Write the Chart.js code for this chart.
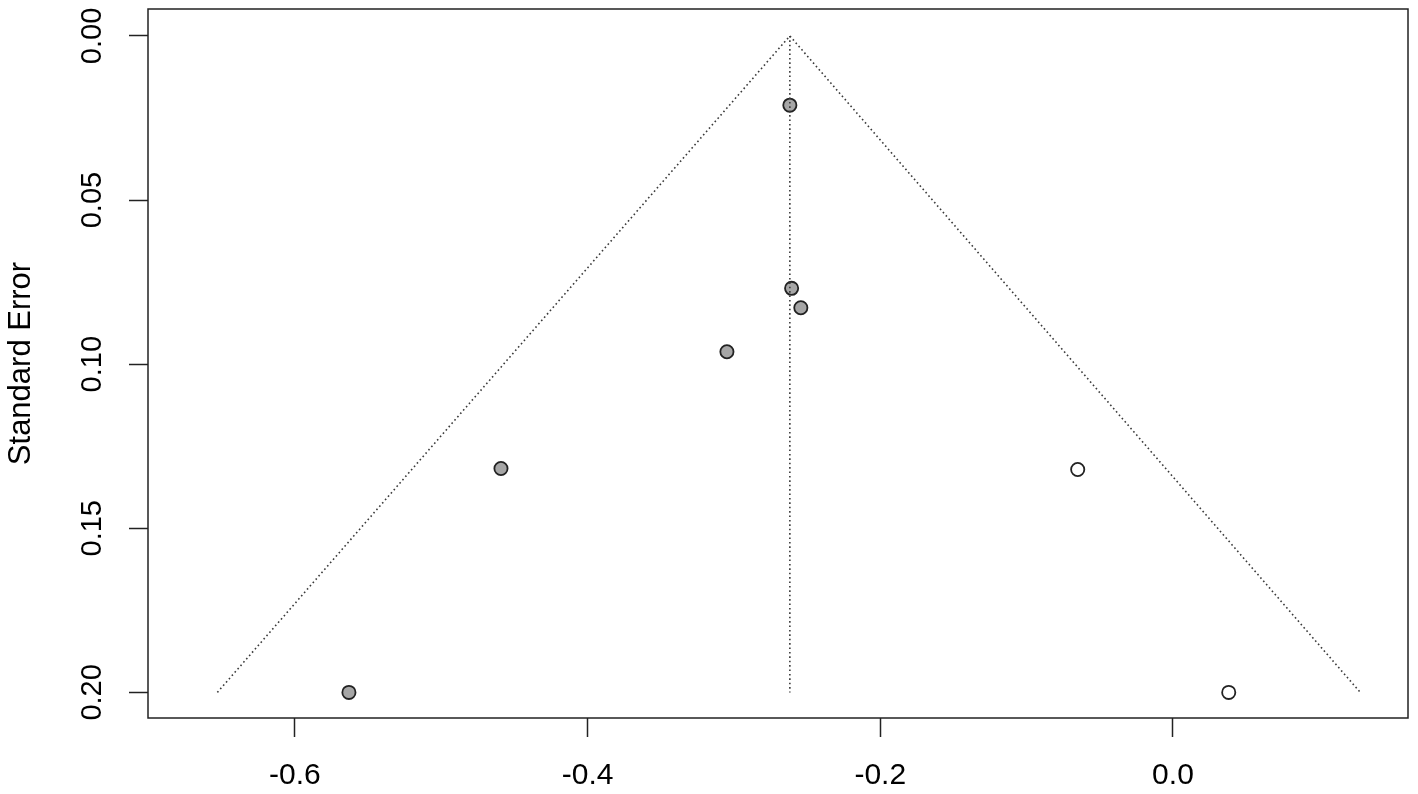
<!DOCTYPE html>
<html>
<head>
<meta charset="utf-8">
<script src="https://cdn.jsdelivr.net/npm/chart.js@4"></script>
<style>
  html, body { margin: 0; padding: 0; background: #fff; }
  #wrap { width: 1418px; height: 794px; position: relative; }
</style>
</head>
<body>
<div id="wrap"><canvas id="funnel"></canvas></div>
<script>
// observed studies (effect, standard error)
const obsEffect = [-0.2618, -0.2606, -0.2543, -0.3048, -0.4592, -0.5631];
const obsSE     = [0.0211, 0.0769, 0.0828, 0.0962, 0.1318, 0.2000];
// filled (imputed) studies
const fillEffect = [-0.0651, 0.0381];
const fillSE     = [0.1321, 0.2000];

// pooled estimate and funnel edges
const centerX = -0.2618;
const funnelX = [-0.653, -0.2618, 0.128];
const funnelY = [0.2, 0, 0.2];

const xTicks = [-0.6, -0.4, -0.2, 0.0];
const xTickLabels = ['-0.6', '-0.4', '-0.2', '0.0'];
const yTicks = [0, 0.05, 0.10, 0.15, 0.20];
const yTickLabels = ['0.00', '0.05', '0.10', '0.15', '0.20'];
const yTitle = 'Standard Error';

const FONT = '"Liberation Sans", Arial, sans-serif';
const ink = '#222';
const dots = '#3a3a3a';

const pts = (xs, ys) => xs.map((x, i) => ({ x: x, y: ys[i] }));

// box + rotated y labels, like base R
const rAxes = {
  id: 'rAxes',
  afterDraw(chart) {
    const c = chart.ctx, a = chart.chartArea, ys = chart.scales.y;
    c.save();
    c.strokeStyle = ink;
    c.lineWidth = 1.5;
    c.strokeRect(a.left, a.top, a.right - a.left, a.bottom - a.top);
    c.fillStyle = '#000';
    c.font = '29px ' + FONT;
    c.textAlign = 'center';
    c.textBaseline = 'alphabetic';
    yTicks.forEach((v, i) => {
      c.save();
      c.translate(101, ys.getPixelForValue(v));
      c.rotate(-Math.PI / 2);
      c.fillText(yTickLabels[i], 0, 0);
      c.restore();
    });
    c.font = '31px ' + FONT;
    c.translate(30, (a.top + a.bottom) / 2);
    c.rotate(-Math.PI / 2);
    c.fillText(yTitle, 0, 0);
    c.restore();
  }
};

new Chart(document.getElementById('funnel'), {
  type: 'scatter',
  data: {
    datasets: [
      {
        data: pts(funnelX, funnelY),
        showLine: true,
        borderColor: dots,
        borderWidth: 1.6,
        borderDash: [1.6, 2.8],
        pointRadius: 0,
        tension: 0
      },
      {
        data: pts([centerX, centerX], [0, 0.2]),
        showLine: true,
        borderColor: dots,
        borderWidth: 1.6,
        borderDash: [1.6, 2.8],
        pointRadius: 0
      },
      {
        data: pts(obsEffect, obsSE),
        backgroundColor: '#a6a6a6',
        borderColor: ink,
        borderWidth: 1.8,
        pointRadius: 6.6
      },
      {
        data: pts(fillEffect, fillSE),
        backgroundColor: '#fff',
        borderColor: ink,
        borderWidth: 1.8,
        pointRadius: 6.6
      }
    ]
  },
  options: {
    responsive: true,
    maintainAspectRatio: false,
    animation: false,
    layout: { padding: { top: 9, right: 10, left: 0, bottom: 0 } },
    plugins: { legend: { display: false }, tooltip: { enabled: false } },
    scales: {
      x: {
        type: 'linear',
        min: -0.7004,
        max: 0.1606,
        border: { display: false },
        grid: { drawOnChartArea: false, drawTicks: true, tickLength: 19, tickWidth: 1.5, tickColor: ink },
        ticks: {
          color: '#000',
          font: { family: FONT, size: 30 },
          padding: 21,
          maxRotation: 0,
          callback: (v) => xTickLabels[xTicks.indexOf(v)]
        },
        afterBuildTicks: (s) => { s.ticks = xTicks.map(v => ({ value: v })); },
        afterFit: (s) => { s.height = 76; }
      },
      y: {
        type: 'linear',
        reverse: true,
        min: -0.0082,
        max: 0.2078,
        border: { display: false },
        grid: { drawOnChartArea: false, drawTicks: true, tickLength: 19, tickWidth: 1.5, tickColor: ink },
        ticks: { display: false },
        afterBuildTicks: (s) => { s.ticks = yTicks.map(v => ({ value: v })); },
        afterFit: (s) => { s.width = 148; }
      }
    }
  },
  plugins: [rAxes]
});
</script>
</body>
</html>
